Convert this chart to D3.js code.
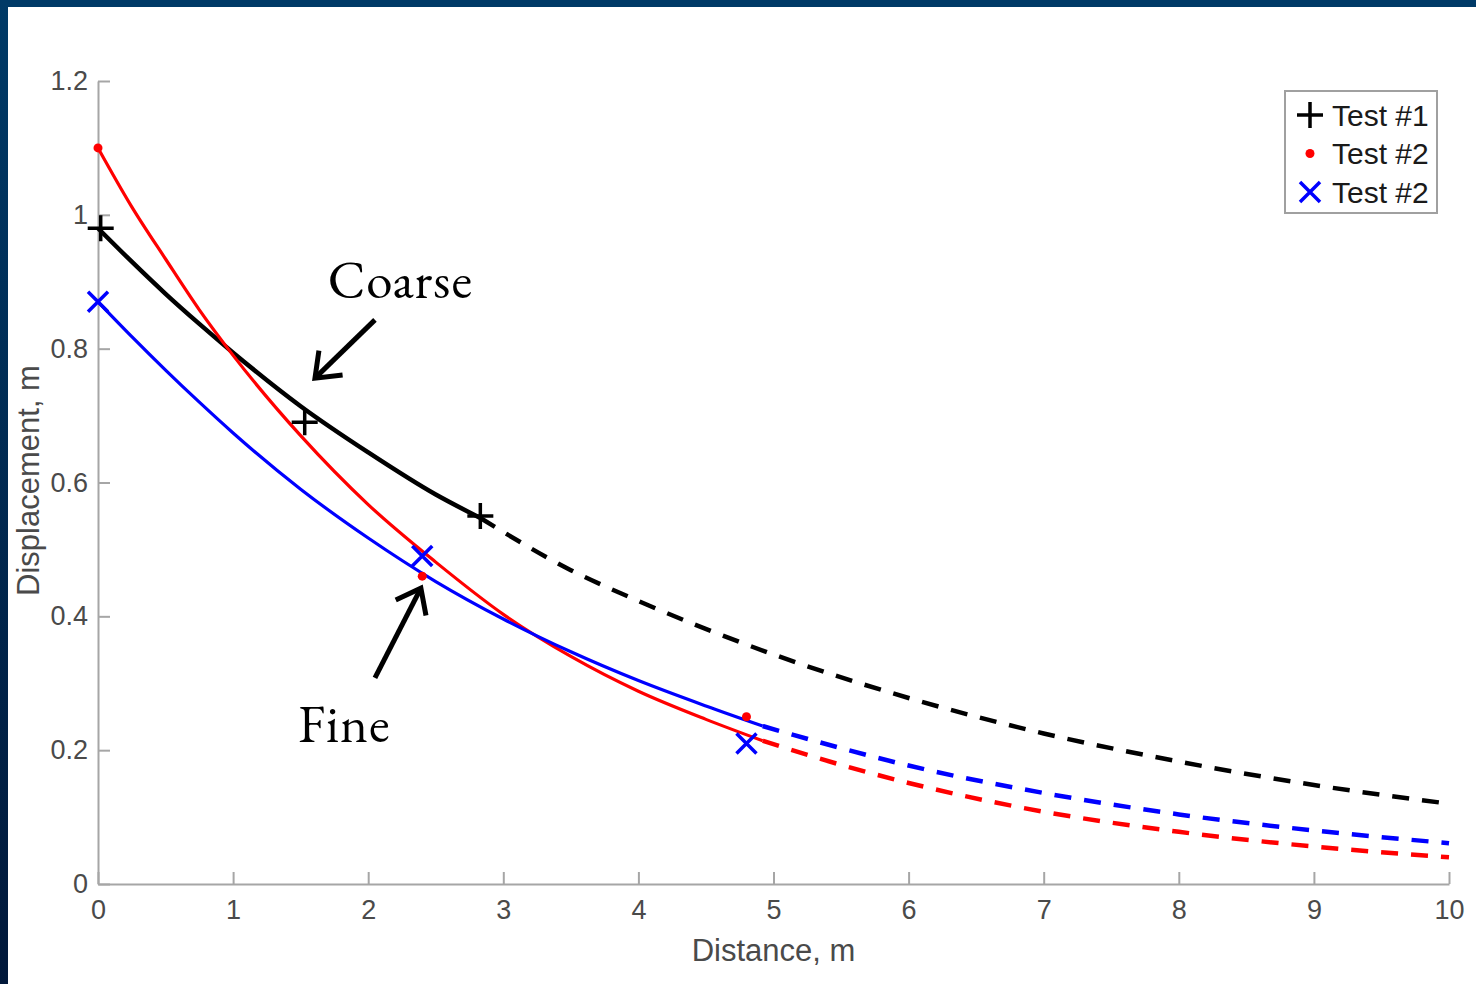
<!DOCTYPE html>
<html>
<head>
<meta charset="utf-8">
<script src="https://cdn.jsdelivr.net/npm/d3@7"></script>
<style>
  html, body { margin: 0; padding: 0; background: #fff; }
  svg { display: block; }
  .tick text { font-family: Arial, "Liberation Sans", sans-serif; }
</style>
</head>
<body>
<svg id="chart" width="1476" height="984"></svg>
<script>
// tick values / labels
var xTicks = [0, 1, 2, 3, 4, 5, 6, 7, 8, 9, 10];
var yTicks = [0, 0.2, 0.4, 0.6, 0.8, 1, 1.2];
var yTickLabels = ["0", "0.2", "0.4", "0.6", "0.8", "1", "1.2"];

// fitted curves (distance m, displacement m)
var blackSolidX = [0, 0.25, 0.5, 0.75, 1.0, 1.5, 2.0, 2.5, 2.83];
var blackSolidY = [0.98, 0.93, 0.882, 0.837, 0.794, 0.714, 0.645, 0.582, 0.547];
var blackDashX = [2.83, 3.5, 4, 5, 6, 7, 8, 9, 10];
var blackDashY = [0.547, 0.469, 0.423, 0.343, 0.278, 0.225, 0.183, 0.148, 0.12];

var redSolidX = [0, 0.25, 0.5, 0.75, 1.0, 1.5, 2.0, 2.5, 3.0, 3.5, 4.0, 4.5, 4.92];
var redSolidY = [1.10, 1.012, 0.934, 0.858, 0.79, 0.67, 0.567, 0.481, 0.403, 0.34, 0.288, 0.246, 0.214];
var redDashX = [4.92, 5.5, 6, 7, 8, 9, 10];
var redDashY = [0.214, 0.178, 0.151, 0.108, 0.078, 0.056, 0.040];

var blueSolidX = [0, 0.25, 0.5, 0.75, 1.0, 1.5, 2.0, 2.5, 3.0, 3.5, 4.0, 4.5, 4.92];
var blueSolidY = [0.87, 0.818, 0.768, 0.72, 0.674, 0.59, 0.517, 0.452, 0.396, 0.347, 0.304, 0.266, 0.236];
var blueDashX = [4.92, 5.5, 6, 7, 8, 9, 10];
var blueDashY = [0.236, 0.203, 0.177, 0.136, 0.104, 0.08, 0.061];

// measured points
var test1X = [0.02, 1.53, 2.83];
var test1Y = [0.98, 0.69, 0.55];
var test2dotX = [0, 2.4, 4.8];
var test2dotY = [1.10, 0.46, 0.25];
var test2crossX = [0, 2.4, 4.8];
var test2crossY = [0.87, 0.49, 0.21];

var legendLabels = ["Test #1", "Test #2", "Test #2"];

// annotations (data units)
var noteText = ["Coarse", "Fine"];
var noteX = [1.70, 1.48];
var noteY = [0.876, 0.212];
var arrowFromX = [2.05, 2.05], arrowFromY = [0.843, 0.308];
var arrowToX = [1.606, 2.39], arrowToY = [0.756, 0.442];

var W = 1476, H = 984;
var margin = {left: 98, right: 27, top: 81, bottom: 100};

var svg = d3.select("#chart");

// slide frame: dark blue strip top and left
var defs = svg.append("defs");
var grad = defs.append("linearGradient").attr("id", "leftbar")
    .attr("x1", 0).attr("y1", 0).attr("x2", 0).attr("y2", 1);
grad.append("stop").attr("offset", "0%").attr("stop-color", "#003a67");
grad.append("stop").attr("offset", "100%").attr("stop-color", "#01183a");
svg.append("rect").attr("x", 0).attr("y", 0).attr("width", W).attr("height", 7).attr("fill", "#003a67");
svg.append("rect").attr("x", 0).attr("y", 0).attr("width", 8).attr("height", H).attr("fill", "url(#leftbar)");

defs.append("marker").attr("id", "vhead")
    .attr("markerUnits", "userSpaceOnUse")
    .attr("viewBox", "-30 -22 36 44")
    .attr("markerWidth", 36).attr("markerHeight", 44)
    .attr("refX", 0).attr("refY", 0)
    .attr("orient", "auto")
  .append("path")
    .attr("d", "M-22,-17L0,0L-22,17")
    .attr("fill", "none").attr("stroke", "#000").attr("stroke-width", 5)
    .attr("stroke-linejoin", "miter");

var x = d3.scaleLinear().domain([0, 10]).range([margin.left, W - margin.right]);
var y = d3.scaleLinear().domain([0, 1.2]).range([H - margin.bottom, margin.top]);

// axes
var xAxis = d3.axisBottom(x).tickValues(xTicks).tickSizeInner(-12).tickSizeOuter(0).tickPadding(16);
var yAxis = d3.axisLeft(y).tickValues(yTicks).tickSizeInner(-12).tickSizeOuter(0).tickPadding(10)
    .tickFormat(function(d, i) { return yTickLabels[i]; });

var gx = svg.append("g").attr("transform", "translate(0," + y(0) + ")").call(xAxis);
var gy = svg.append("g").attr("transform", "translate(" + x(0) + ",0)").call(yAxis);
[gx, gy].forEach(function(g) {
    g.select(".domain").attr("stroke", "#a6a6a6").attr("stroke-width", 2);
    g.selectAll(".tick line").attr("stroke", "#a6a6a6").attr("stroke-width", 2);
    g.selectAll(".tick text").attr("fill", "#4a4a4a").attr("font-size", 27);
});
gx.selectAll(".tick text").attr("dy", "0.71em");

svg.append("text").attr("x", x(5)).attr("y", 961)
    .attr("text-anchor", "middle").attr("fill", "#4a4a4a")
    .attr("font-family", "Arial, 'Liberation Sans', sans-serif").attr("font-size", 31)
    .text("Distance, m");
svg.append("text").attr("transform", "translate(39," + (y(0.6) - 2) + ") rotate(-90)")
    .attr("text-anchor", "middle").attr("fill", "#4a4a4a")
    .attr("font-family", "Arial, 'Liberation Sans', sans-serif").attr("font-size", 31)
    .text("Displacement, m");

// curves
var line = d3.line().x(function(d) { return x(d[0]); }).y(function(d) { return y(d[1]); })
    .curve(d3.curveMonotoneX);
function pairs(xs, ys) { return xs.map(function(v, i) { return [v, ys[i]]; }); }

var curves = [
    {xs: blackSolidX, ys: blackSolidY, color: "#000", w: 4.5, dash: null},
    {xs: blackDashX, ys: blackDashY, color: "#000", w: 4.5, dash: "17,13"},
    {xs: redSolidX, ys: redSolidY, color: "#f00", w: 3.2, dash: null},
    {xs: redDashX, ys: redDashY, color: "#f00", w: 4.5, dash: "17,13"},
    {xs: blueSolidX, ys: blueSolidY, color: "#00f", w: 3.2, dash: null},
    {xs: blueDashX, ys: blueDashY, color: "#00f", w: 4.5, dash: "17,13"}
];
svg.append("g").selectAll("path").data(curves).join("path")
    .attr("d", function(c) { return line(pairs(c.xs, c.ys)); })
    .attr("fill", "none")
    .attr("stroke", function(c) { return c.color; })
    .attr("stroke-width", function(c) { return c.w; })
    .attr("stroke-dasharray", function(c) { return c.dash; });

// markers
var plusPath = "M-13,0H13M0,-13V13";
var crossPath = "M-10,-10L10,10M-10,10L10,-10";

svg.append("g").selectAll("path").data(pairs(test1X, test1Y)).join("path")
    .attr("transform", function(d) { return "translate(" + x(d[0]) + "," + y(d[1]) + ")"; })
    .attr("d", plusPath).attr("stroke", "#000").attr("stroke-width", 3.5);
svg.append("g").selectAll("circle").data(pairs(test2dotX, test2dotY)).join("circle")
    .attr("cx", function(d) { return x(d[0]); }).attr("cy", function(d) { return y(d[1]); })
    .attr("r", 4.5).attr("fill", "#f00");
svg.append("g").selectAll("path").data(pairs(test2crossX, test2crossY)).join("path")
    .attr("transform", function(d) { return "translate(" + x(d[0]) + "," + y(d[1]) + ")"; })
    .attr("d", crossPath).attr("stroke", "#00f").attr("stroke-width", 3.5);

// annotations
var notes = svg.append("g");
noteText.forEach(function(t, i) {
    notes.append("text").attr("x", x(noteX[i])).attr("y", y(noteY[i]))
        .attr("font-family", "'EB Garamond', Garamond, 'Liberation Serif', 'DejaVu Serif', serif")
        .attr("font-size", 53).attr("letter-spacing", 1).attr("fill", "#000").text(t);
    notes.append("line")
        .attr("x1", x(arrowFromX[i])).attr("y1", y(arrowFromY[i]))
        .attr("x2", x(arrowToX[i])).attr("y2", y(arrowToY[i]))
        .attr("stroke", "#000").attr("stroke-width", 5)
        .attr("marker-end", "url(#vhead)");
});

// legend
var lg = svg.append("g").attr("transform", "translate(1285,91)");
lg.append("rect").attr("width", 152).attr("height", 122)
    .attr("fill", "#fff").attr("stroke", "#a0a0a0").attr("stroke-width", 2);
var rows = lg.selectAll("g").data(legendLabels).join("g")
    .attr("transform", function(d, i) { return "translate(0," + (24 + i * 38.5) + ")"; });
rows.append("text").attr("x", 47).attr("dy", "0.35em")
    .attr("font-family", "Arial, 'Liberation Sans', sans-serif").attr("font-size", 30)
    .attr("fill", "#1a1a1a").text(function(d) { return d; });
rows.filter(function(d, i) { return i === 0; }).append("path")
    .attr("transform", "translate(25,0)").attr("d", plusPath)
    .attr("stroke", "#000").attr("stroke-width", 3.5);
rows.filter(function(d, i) { return i === 1; }).append("circle")
    .attr("cx", 25).attr("cy", 0).attr("r", 4.5).attr("fill", "#f00");
rows.filter(function(d, i) { return i === 2; }).append("path")
    .attr("transform", "translate(25,0)").attr("d", crossPath)
    .attr("stroke", "#00f").attr("stroke-width", 3.5);
</script>
</body>
</html>
